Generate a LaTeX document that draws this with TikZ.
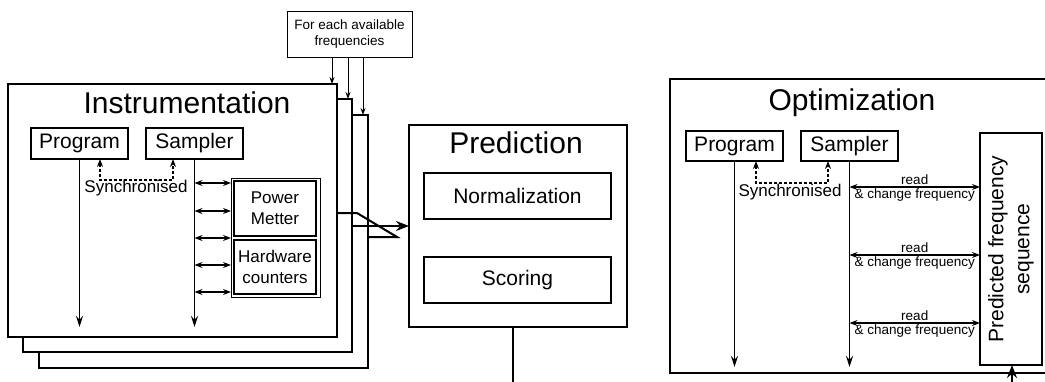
\documentclass[tikz,border=0pt]{standalone}
\usepackage{fontspec}
\setmainfont{Liberation Sans}
\usetikzlibrary{arrows.meta}

\newcommand\fsTitle{\fontsize{30}{34}\selectfont}
\newcommand\fsBox{\fontsize{21}{26}\selectfont}
\newcommand\fsSync{\fontsize{17}{21}\selectfont}
\newcommand\fsNote{\fontsize{13.5}{16.5}\selectfont}

\begin{document}
\begin{tikzpicture}[x=1pt,y=-1pt,
  frame/.style n args={2}{draw,line width=2pt,fill=white,inner sep=0pt,outer sep=0pt,minimum width=#1,minimum height=#2},
  box/.style n args={2}{draw,line width=1.5pt,fill=white,inner sep=0pt,outer sep=0pt,minimum width=#1,minimum height=#2,align=center},
  life/.style={line width=1.5pt,-{Stealth[length=11pt,width=7pt]}},
  sync/.style={line width=1.1pt,densely dashed,{Stealth[length=8pt,width=6pt]}-{Stealth[length=8pt,width=6pt]}},
  dbl/.style={line width=1.1pt,{Stealth[length=8pt,width=6pt]}-{Stealth[length=8pt,width=6pt]}},
  heavy/.style={line width=2pt,line join=miter},
  thin arrow/.style={line width=0.9pt,-{Stealth[length=7pt,width=5pt]}}]
\useasboundingbox (0,0) rectangle (1045,381);
\clip (0,0) rectangle (1045,381);

% instrumentation, one frame per frequency
\node[frame={329}{253},anchor=north west] (inst3) at (39,115) {};
\node[frame={329}{253},anchor=north west] (inst2) at (23,99) {};
\node[frame={329}{253},anchor=north west] (inst1) at (8,84) {};
\node[font=\fsTitle] (insttitle) at (187,103) {Instrumentation};

\node[box={125}{46},line width=1pt,font=\fsNote] (freq) at (349.5,34) {For each available\\frequencies};
\foreach \i/\x in {1/332,2/348,3/363}
   \draw[thin arrow] (freq.south -| \x,0) -- (inst\i.north -| \x,0);

\node[box={97}{31},font=\fsBox] (prog) at (79.5,143.5) {Program};
\node[box={97}{31},font=\fsBox] (samp) at (194.5,143.5) {Sampler};
\coordinate (progend) at (79.5,327);
\coordinate (sampend) at (194.5,327);
\draw[life] (prog) -- (progend);
\draw[life] (samp) -- (sampend);

\coordinate (syncL) at (100,180);
\coordinate (syncR) at (173,180);
\draw[sync] (prog.south -| syncL) -- (syncL) -- (syncR) -- (samp.south -| syncR);
\node[font=\fsSync] (sync) at (136,188) {Synchronised};

\node[draw,line width=1pt,minimum width=89,minimum height=119,inner sep=0pt,outer sep=0pt] (hw) at (275.5,237.5) {};
\node[box={82}{55},font=\fsSync] (power) at (275,208.5) {Power\\Metter};
\node[box={82}{54},font=\fsSync] (hwc) at (275,267) {Hardware\\counters};
\foreach \y in {183,211,238,265,292}
   \draw[dbl] (samp.south |- 0,\y) -- (hw.west |- 0,\y);

% prediction
\node[frame={218}{202}] (pred) at (518,226) {};
\node[font=\fsTitle] (predtitle) at (516,143) {Prediction};
\node[box={187}{46},font=\fsBox] (norm) at (517.5,196) {Normalization};
\node[box={187}{46},font=\fsBox] (score) at (517.5,280) {Scoring};

\coordinate (kA) at (357,213);
\coordinate (kB) at (397,237);
\draw[heavy] (inst1.east |- kA) -- (kA) -- (kB) -- (inst3.east |- kB);
\draw[heavy,-{Stealth[length=13pt,width=10pt]}] (inst2.east |- pred.west) -- (pred.west);
\coordinate (predout) at (513,395);
\draw[heavy] (pred.south -| predout) -- (predout);

% optimization
\node[frame={400}{294},anchor=north west] (opt) at (670,79) {};
\node[font=\fsTitle] (opttitle) at (852,103) {Optimization};
\node[box={97}{30},font=\fsBox] (prog2) at (734.5,146) {Program};
\node[box={97}{30},font=\fsBox] (samp2) at (849.5,146) {Sampler};
\coordinate (prog2end) at (734.5,367);
\coordinate (samp2end) at (849.5,367);
\draw[life] (prog2) -- (prog2end);
\draw[life] (samp2) -- (samp2end);

\coordinate (sync2L) at (756,183);
\coordinate (sync2R) at (828,183);
\draw[sync] (prog2.south -| sync2L) -- (sync2L) -- (sync2R) -- (samp2.south -| sync2R);
\node[font=\fsSync] (sync2) at (790,192) {Synchronised};

\node[box={62}{232}] (pfs) at (1011,249) {};
\node[rotate=90,font=\fsBox,align=center] (pfstext) at (pfs) {Predicted frequency\\sequence};
\foreach \y in {187,255,323}
   \draw[dbl] (samp2.south |- 0,\y) --
      node[above,font=\fsNote,inner sep=1.5pt] {read}
      node[below,font=\fsNote,inner sep=1.5pt] {\& change frequency} (pfs.west |- 0,\y);

\coordinate (pfsin) at (1012,395);
\draw[heavy,-{Stealth[length=13pt,width=10pt]}] (pfsin) -- (pfs.south -| pfsin);
\end{tikzpicture}
\end{document}
